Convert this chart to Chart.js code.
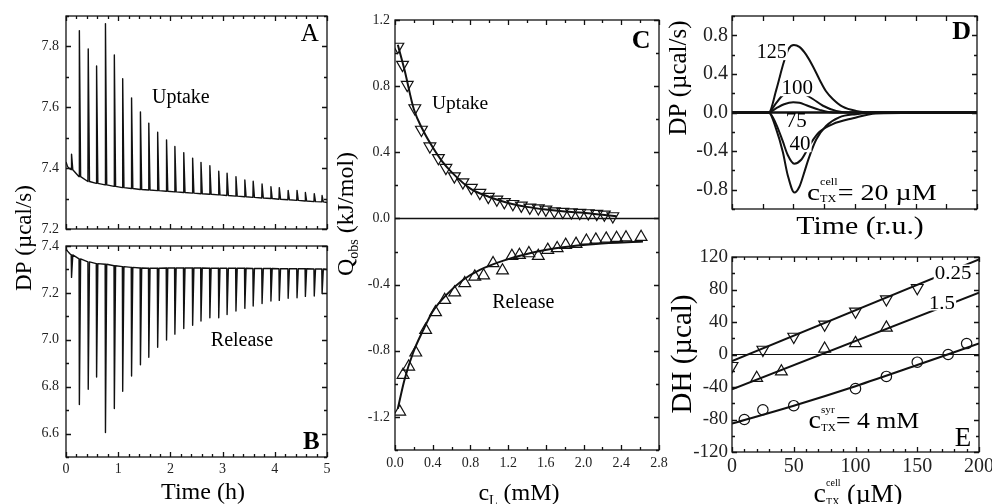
<!DOCTYPE html>
<html><head><meta charset="utf-8">
<script src="https://cdn.jsdelivr.net/npm/chart.js@4.4.1/dist/chart.umd.min.js"></script>
<style>
html,body{margin:0;padding:0;background:#fff;}
#wrap{position:relative;width:992px;height:504px;overflow:hidden;background:#fff;}
canvas{position:absolute;left:0;top:0;}
</style></head>
<body><div id="wrap">
<canvas id="cA" width="992" height="504"></canvas>
<canvas id="cB" width="992" height="504"></canvas>
<canvas id="cC" width="992" height="504"></canvas>
<canvas id="cD" width="992" height="504"></canvas>
<canvas id="cE" width="992" height="504"></canvas>
</div>
<script>
// ================= DATA =================
// Panels A/B: injection times (h), peak values and baseline at each injection (µcal/s)
const injTimes = [0.10,0.25,0.42,0.58,0.75,0.92,1.08,1.25,1.42,1.58,1.75,1.92,2.08,2.25,2.42,2.58,2.75,2.92,3.08,3.25,3.42,3.58,3.75,3.92,4.08,4.25,4.42,4.58,4.75,4.90];
const uptakePeaks = [7.446,7.852,7.792,7.736,7.875,7.772,7.694,7.631,7.585,7.548,7.518,7.493,7.471,7.451,7.433,7.419,7.408,7.390,7.383,7.372,7.361,7.357,7.348,7.339,7.336,7.327,7.327,7.320,7.316,7.310];
const uptakeBase = [7.395,7.372,7.356,7.350,7.345,7.340,7.336,7.333,7.330,7.328,7.326,7.324,7.322,7.320,7.318,7.316,7.314,7.312,7.310,7.308,7.306,7.304,7.302,7.300,7.298,7.296,7.294,7.292,7.290,7.289];
const uptakeLeadT = [0, 0.03, 0.07];
const uptakeLeadY = [7.420, 7.405, 7.398];
const uptakeEnd = [5.0, 7.287];
const releasePeaks = [7.266,6.724,6.789,6.841,6.604,6.707,6.780,6.845,6.893,6.925,6.968,6.999,7.024,7.048,7.062,7.080,7.094,7.094,7.108,7.123,7.134,7.144,7.155,7.165,7.168,7.177,7.179,7.185,7.187,7.197];
const releaseBase = [7.362,7.345,7.332,7.325,7.322,7.316,7.312,7.309,7.306,7.305,7.305,7.306,7.306,7.306,7.306,7.306,7.305,7.305,7.305,7.305,7.305,7.304,7.304,7.304,7.303,7.303,7.303,7.303,7.302,7.302];
const releaseLeadT = [0, 0.03, 0.07];
const releaseLeadY = [7.388, 7.378, 7.368];
const releaseEnd = [5.0, 7.300];

// Panel C: Q_obs vs c_L
const cUptakeX = [0.03,0.08,0.13,0.21,0.28,0.37,0.46,0.54,0.63,0.72,0.81,0.90,0.99,1.08,1.16,1.25,1.34,1.43,1.52,1.60,1.69,1.78,1.87,1.96,2.05,2.14,2.22,2.31];
const cUptakeY = [1.039,0.929,0.808,0.667,0.537,0.436,0.366,0.306,0.255,0.219,0.185,0.155,0.131,0.115,0.099,0.088,0.078,0.066,0.062,0.054,0.044,0.040,0.038,0.034,0.032,0.028,0.024,0.014];
const cUptakeFitX = [0.03,0.10,0.20,0.30,0.40,0.50,0.60,0.80,1.00,1.20,1.40,1.60,1.80,2.00,2.20,2.35];
const cUptakeFitY = [1.05,0.90,0.66,0.53,0.43,0.345,0.28,0.18,0.13,0.094,0.07,0.054,0.042,0.034,0.022,0.014];
const cReleaseX = [0.05,0.085,0.145,0.22,0.325,0.43,0.527,0.633,0.74,0.846,0.94,1.04,1.14,1.24,1.32,1.42,1.52,1.62,1.72,1.81,1.92,2.03,2.13,2.24,2.35,2.45,2.61];
const cReleaseY = [-1.168,-0.946,-0.896,-0.811,-0.674,-0.567,-0.493,-0.448,-0.392,-0.352,-0.345,-0.271,-0.315,-0.227,-0.221,-0.211,-0.227,-0.19,-0.18,-0.16,-0.154,-0.135,-0.128,-0.122,-0.118,-0.115,-0.112];
const cReleaseFitX = [0.03,0.10,0.19,0.30,0.40,0.545,0.72,0.90,1.15,1.43,1.78,2.13,2.63];
const cReleaseFitY = [-1.15,-0.977,-0.815,-0.674,-0.563,-0.462,-0.372,-0.311,-0.255,-0.21,-0.174,-0.154,-0.14];

// Panel D: simulated DP traces (time in r.u.) for c_TX^cell = 125, 100, 75, 40, 20 µM
const d125X = [0,1.2,1.45,1.69,1.85,2.02,2.2,2.42,2.64,2.86,3.07,3.29,3.61,4.05,4.7,8];
const d125Y = [0,0,0.24,0.52,0.66,0.70,0.68,0.60,0.48,0.34,0.22,0.14,0.06,0.017,0,0];
const d100X = [0,1.2,1.4,1.6,1.8,2.0,2.2,2.4,2.64,2.97,3.4,3.9,8];
const d100Y = [0,0,0.08,0.16,0.21,0.23,0.215,0.185,0.14,0.07,0.017,0,0];
const d75X = [0,1.2,1.45,1.7,2.0,2.2,2.43,2.86,3.3,8];
const d75Y = [0,0,0.045,0.085,0.105,0.10,0.075,0.027,0,0];
const d40X = [0,1.2,1.44,1.66,1.82,2.03,2.26,2.59,2.86,3.29,3.95,4.7,8];
const d40Y = [0,0,-0.12,-0.30,-0.44,-0.53,-0.49,-0.31,-0.20,-0.12,-0.06,-0.01,0];
const d20X = [0,1.2,1.44,1.66,1.82,2.04,2.2,2.37,2.5,2.75,3.07,3.5,4.05,4.7,8];
const d20Y = [0,0,-0.17,-0.41,-0.65,-0.83,-0.77,-0.61,-0.48,-0.28,-0.14,-0.05,-0.017,0,0];

// Panel E: DH vs c_TX^cell for c_TX^syr = 0.25, 1.5, 4 mM
const e025X = [0,25,50,75,100,125,150];
const e025Y = [-14,6,22,37,53,68,82];
const e025FitX = [0,200];
const e025FitY = [-8,117];
const e15X = [20,40,75,100,125];
const e15Y = [-29,-21,7,14,33];
const e15FitX = [0,200];
const e15FitY = [-43,76];
const e4X = [10,25,50,100,125,150,175,190];
const e4Y = [-80,-68,-63,-42,-27,-9.5,0,13.5];
const e4FitX = [0,50,100,150,200];
const e4FitY = [-85,-63,-39,-13,13.5];

// Tick labels
const tickAx = [0,1,2,3,4,5];
const tickAy = [7.2,7.4,7.6,7.8];
const tickBy = [6.6,6.8,7.0,7.2,7.4];
const tickCx = [0,0.4,0.8,1.2,1.6,2.0,2.4,2.8];
const tickCy = [-1.2,-0.8,-0.4,0,0.4,0.8,1.2];
const tickDx = [0,1,2,3,4,5,6,7,8];
const tickDy = [-0.8,-0.4,0,0.4,0.8];
const tickEx = [0,50,100,150,200];
const tickEy = [-120,-80,-40,0,40,80,120];

// ================= HELPERS =================
const FAM = '"Liberation Serif","Times New Roman",serif';
Chart.defaults.font.family = FAM;
Chart.defaults.animation = false;
const INK = '#111';
const zip = (xs, ys) => xs.map((x, i) => ({x, y: ys[i]}));

function buildTrace(leadT, leadY, base, peaks, endPt) {
  const pts = zip(leadT, leadY);
  injTimes.forEach((t, i) => {
    pts.push({x: t, y: base[i]});
    pts.push({x: t + 0.006, y: peaks[i]});
    pts.push({x: t + 0.03, y: base[i]});
  });
  pts.push({x: endPt[0], y: endPt[1]});
  return pts;
}

function richDraw(ctx, segs, cx, cy, opt) {
  opt = opt || {};
  const items = []; let w = 0, pend = 0, maxS = 0;
  for (const g of segs) {
    ctx.font = (g.b ? 'bold ' : '') + g.s + 'px ' + FAM;
    const m = ctx.measureText(g.t).width;
    items.push({g, x: w});
    if (g.stack) pend = Math.max(pend, m); else { w += Math.max(m, pend); pend = 0; }
    if (!g.small) maxS = Math.max(maxS, g.s);
  }
  ctx.save();
  ctx.translate(cx, cy);
  if (opt.rot) ctx.rotate(opt.rot);
  if (opt.sx) ctx.scale(opt.sx, 1);
  const x0 = opt.align === 'left' ? 0 : -w / 2;
  const base = maxS * 0.33;
  if (opt.bg) { ctx.fillStyle = '#fff'; ctx.fillRect(x0 - 1, -maxS * 0.42, w + 2, maxS * 0.84); }
  ctx.fillStyle = opt.color || '#000';
  ctx.textBaseline = 'alphabetic'; ctx.textAlign = 'left';
  for (const it of items) {
    const g = it.g;
    ctx.font = (g.b ? 'bold ' : '') + g.s + 'px ' + FAM;
    ctx.fillText(g.t, x0 + it.x, base + (g.dy || 0));
  }
  ctx.restore();
}

const framePlugin = {
  id: 'frame',
  afterDatasetsDraw(chart, args, o) {
    const {ctx, chartArea: a} = chart;
    const xs = chart.scales.x, ys = chart.scales.y;
    ctx.save();
    ctx.strokeStyle = INK; ctx.lineWidth = o.lw || 1.3;
    ctx.beginPath();
    const drawSet = (scale, majors, minorStep, horiz) => {
      const vals = [];
      majors.forEach(v => vals.push([v, o.len]));
      if (minorStep) {
        const n = Math.round((scale.max - scale.min) / minorStep);
        for (let i = 0; i <= n; i++) {
          const v = scale.min + i * minorStep;
          if (!majors.some(m => Math.abs(m - v) < minorStep / 100)) vals.push([v, o.mlen]);
        }
      }
      vals.forEach(([v, L]) => {
        const p = Math.round(scale.getPixelForValue(v)) + 0.5;
        if (horiz) {
          ctx.moveTo(p, a.bottom); ctx.lineTo(p, a.bottom - L);
          ctx.moveTo(p, a.top); ctx.lineTo(p, a.top + L);
        } else {
          ctx.moveTo(a.left, p); ctx.lineTo(a.left + L, p);
          ctx.moveTo(a.right, p); ctx.lineTo(a.right - L, p);
        }
      });
    };
    drawSet(xs, o.xMajor, o.xMinor, true);
    drawSet(ys, o.yMajor, o.yMinor, false);
    ctx.stroke();
    ctx.strokeRect(a.left, a.top, a.width, a.height);
    ctx.restore();
  }
};

const notesPlugin = {
  id: 'notes',
  afterDraw(chart, args, o) {
    const ctx = chart.ctx;
    (o.items || []).forEach(it => {
      let cx = it.x, cy = it.y;
      if (it.data) { cx = chart.scales.x.getPixelForValue(it.x); cy = chart.scales.y.getPixelForValue(it.y); }
      richDraw(ctx, it.segs, cx, cy, it);
    });
  }
};

function line(pts, w, smooth) {
  return {data: pts, showLine: true, borderColor: INK, borderWidth: w, pointRadius: 0,
    fill: false, tension: 0, cubicInterpolationMode: smooth ? 'monotone' : 'default', borderJoinStyle: 'round'};
}
function marks(pts, style, rot, r) {
  return {data: pts, showLine: false, pointStyle: style, rotation: rot, pointRadius: r,
    borderColor: INK, borderWidth: 1.2, backgroundColor: 'rgba(0,0,0,0)'};
}

function axis(min, max, ticks, dec, show, size, pad, isX) {
  return {
    type: 'linear', min, max,
    grid: {display: false, drawTicks: false},
    border: {display: false},
    afterBuildTicks: s => { s.ticks = ticks.map(v => ({value: v})); },
    afterFit: s => { if (isX) { s.height = 30; s.paddingLeft = 0; s.paddingRight = 0; } else { s.width = 60; s.paddingTop = 0; s.paddingBottom = 0; } },
    ticks: {display: show, padding: pad, color: '#222', font: {size, family: FAM},
      maxRotation: 0, autoSkip: false, callback: v => (Math.abs(v) < 1e-9 ? 0 : v).toFixed(dec)}
  };
}

function panel(id, area, xAx, yAx, datasets, frame, notes) {
  new Chart(document.getElementById(id), {
    type: 'scatter',
    data: {datasets},
    options: {
      responsive: false, animation: false, events: [],
      layout: {padding: {left: area.l - 60, top: area.t, right: 992 - area.r, bottom: 504 - area.b - 30}},
      scales: {x: xAx, y: yAx},
      plugins: {legend: {display: false}, tooltip: {enabled: false}, frame, notes: {items: notes}}
    },
    plugins: [framePlugin, notesPlugin]
  });
}

const T = (t, s, extra) => Object.assign({t, s}, extra || {});

// ================= PANEL A =================
panel('cA', {l: 66, t: 16, r: 327, b: 229},
  axis(0, 5, tickAx, 0, false, 14, 4, true),
  axis(7.2, 7.9, tickAy, 1, true, 14, 7, false),
  [line(buildTrace(uptakeLeadT, uptakeLeadY, uptakeBase, uptakePeaks, uptakeEnd), 1.4, false)],
  {xMajor: tickAx, xMinor: 0.2, yMajor: tickAy, yMinor: 0.1, len: 5, mlen: 3},
  [
    {data: true, x: 2.20, y: 7.635, segs: [T('Uptake', 20)]},
    {data: true, x: 4.67, y: 7.845, segs: [T('A', 25)]}
  ]);

// ================= PANEL B =================
panel('cB', {l: 66, t: 246, r: 327, b: 457},
  axis(0, 5, tickAx, 0, true, 14, 4, true),
  axis(6.5, 7.4, tickBy, 1, true, 14, 7, false),
  [line(buildTrace(releaseLeadT, releaseLeadY, releaseBase, releasePeaks, releaseEnd), 1.4, false)],
  {xMajor: tickAx, xMinor: 0.2, yMajor: tickBy, yMinor: 0.1, len: 5, mlen: 3},
  [
    {data: true, x: 3.37, y: 7.0, segs: [T('Release', 20)]},
    {data: true, x: 4.7, y: 6.57, segs: [T('B', 25, {b: true})]},
    {x: 23, y: 238, rot: -Math.PI / 2, segs: [T('DP (\u00b5cal/s)', 23)]},
    {x: 203, y: 491, segs: [T('Time (h)', 24)]}
  ]);

// ================= PANEL C =================
panel('cC', {l: 395, t: 20, r: 659, b: 450},
  axis(0, 2.8, tickCx, 1, true, 14, 5, true),
  axis(-1.4, 1.2, tickCy, 1, true, 14, 5, false),
  [
    line([{x: 0, y: 0}, {x: 2.8, y: 0}], 1.5, false),
    line(zip(cUptakeFitX, cUptakeFitY), 2, true),
    line(zip(cReleaseFitX, cReleaseFitY), 2, true),
    marks(zip(cUptakeX, cUptakeY), 'triangle', 180, 6.8),
    marks(zip(cReleaseX, cReleaseY), 'triangle', 0, 6.8)
  ],
  {xMajor: tickCx, xMinor: 0.2, yMajor: tickCy, yMinor: 0.2, len: 5, mlen: 3},
  [
    {data: true, x: 0.69, y: 0.70, segs: [T('Uptake', 19.5)]},
    {data: true, x: 1.36, y: -0.50, segs: [T('Release', 20)]},
    {data: true, x: 2.61, y: 1.08, segs: [T('C', 26, {b: true})]},
    {x: 345, y: 214, rot: -Math.PI / 2, segs: [T('Q', 24), T('obs', 14, {dy: 5, small: true}), T(' (kJ/mol)', 24)]},
    {x: 519, y: 492, segs: [T('c', 24), T('L', 14, {dy: 5, small: true}), T(' (mM)', 24)]}
  ]);

// ================= PANEL D =================
panel('cD', {l: 732, t: 16, r: 977, b: 209},
  axis(0, 8, tickDx, 0, false, 18, 4, true),
  axis(-1, 1, tickDy, 1, true, 20, 4, false),
  [
    line([{x: 0, y: 0}, {x: 8, y: 0}], 2.5, false),
    line(zip(d125X, d125Y), 2, true),
    line(zip(d100X, d100Y), 2, true),
    line(zip(d75X, d75Y), 2, true),
    line(zip(d40X, d40Y), 2, true),
    line(zip(d20X, d20Y), 2, true)
  ],
  {xMajor: tickDx, xMinor: 0, yMajor: tickDy, yMinor: 0.2, len: 5, mlen: 3},
  [
    {data: true, x: 1.3, y: 0.63, bg: true, segs: [T('125', 20)]},
    {data: true, x: 2.13, y: 0.26, bg: true, segs: [T('100', 21)]},
    {data: true, x: 2.1, y: -0.08, segs: [T('75', 21)]},
    {data: true, x: 2.22, y: -0.32, bg: true, segs: [T('40', 21)]},
    {data: true, x: 2.45, y: -0.82, align: 'left', bg: true, sx: 1.22,
      segs: [T('c', 24), T('cell', 10, {dy: -15, stack: true, small: true}), T('TX', 10, {dy: 2, small: true}), T('= 20 \u00b5M', 23)]},
    {data: true, x: 7.5, y: 0.85, segs: [T('D', 26, {b: true})]},
    {x: 678, y: 78, rot: -Math.PI / 2, segs: [T('DP (\u00b5cal/s)', 25)]},
    {x: 860, y: 225, sx: 1.15, segs: [T('Time (r.u.)', 26)]}
  ]);

// ================= PANEL E =================
panel('cE', {l: 732, t: 257, r: 979, b: 452},
  axis(0, 200, tickEx, 0, true, 20, 3, true),
  axis(-120, 120, tickEy, 0, true, 19, 4, false),
  [
    line([{x: 0, y: 0}, {x: 200, y: 0}], 1, false),
    line(zip(e025FitX, e025FitY), 2, false),
    line(zip(e15FitX, e15FitY), 2, false),
    line(zip(e4FitX, e4FitY), 2, true),
    marks(zip(e025X, e025Y), 'triangle', 180, 6.8),
    marks(zip(e15X, e15Y), 'triangle', 0, 6.8),
    marks(zip(e4X, e4Y), 'circle', 0, 5.2)
  ],
  {xMajor: tickEx, xMinor: 10, yMajor: tickEy, yMinor: 20, len: 5, mlen: 3},
  [
    {data: true, x: 179, y: 101, bg: true, sx: 1.1, segs: [T('0.25', 19)]},
    {data: true, x: 170, y: 64, bg: true, sx: 1.1, segs: [T('1.5', 19)]},
    {data: true, x: 62, y: -80, align: 'left', sx: 1.12,
      segs: [T('c', 25), T('syr', 10, {dy: -15, stack: true, small: true}), T('TX', 10, {dy: 3, small: true}), T('= 4 mM', 23)]},
    {data: true, x: 187, y: -102, segs: [T('E', 27)]},
    {x: 681, y: 354, rot: -Math.PI / 2, segs: [T('DH (\u00b5cal)', 29)]},
    {x: 858, y: 493, segs: [T('c', 28), T('cell', 10, {dy: -16, stack: true, small: true}), T('TX', 10, {dy: 3, small: true}), T(' (\u00b5M)', 26)]}
  ]);
</script>
</body></html>
